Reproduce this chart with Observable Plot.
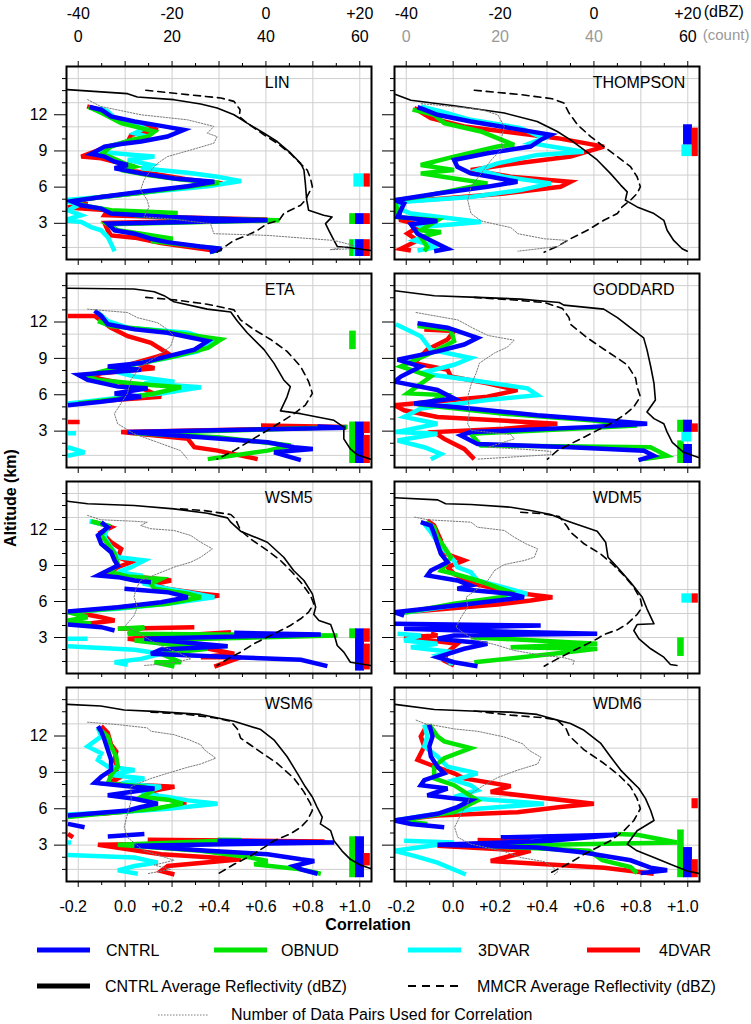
<!DOCTYPE html>
<html><head><meta charset="utf-8">
<script src="https://cdn.jsdelivr.net/npm/d3@7"></script>
<script src="https://cdn.jsdelivr.net/npm/@observablehq/plot@0.6"></script>
<style>
body{margin:0;background:#fff;}
#fig{position:relative;width:751px;height:1024px;font-family:"Liberation Sans",Arial,sans-serif;overflow:hidden;}
#fig svg{position:absolute;overflow:visible;}
</style></head><body><div id="fig"></div>
<script>
// ---------- scales / ticks ----------
const MODELS = ["CNTRL","OBNUD","3DVAR","4DVAR"];
const X_TICKS = [-0.2,0,0.2,0.4,0.6,0.8,1.0];
const X_MINOR = [-0.1,0.1,0.3,0.5,0.7,0.9];
const Y_TICKS = [3,6,9,12];
const Y_MINOR = [1,2,4,5,7,8,10,11,13,14,15];
const Y_GRID = [1,3,5,7,9,11,13,15];
const TOP_POS = [-0.2,0.2,0.6,1.0];
const DBZ_LABELS = ["-40","-20","0","+20"];
const COUNT_LABELS = ["0","20","40","60"];
const dbzToCorr = v => v == null ? NaN : 0.6 + v * 0.02;
const countToCorr = v => v == null ? NaN : -0.2 + v * 0.02;

// ---------- LIN ----------
const LIN_CNTRL = [[-0.152,12.64],[-0.102,12.42],[-0.06,11.86],[0.04,11.44],[0.153,11.08],[0.25,10.75],[0.18,10.19],[0.068,9.78],[-0.017,9.58],[-0.088,9.36],[-0.145,8.75],[-0.088,8.53],[-0.045,8.11],[0.011,7.83],[-0.045,7.56],[0.068,7.14],[0.21,6.72],[0.38,6.44],[0.267,6.08],[0.068,5.61],[-0.102,5.19],[-0.23,4.83],[-0.187,4.5],[-0.102,4.22],[-0.06,3.81],[0.068,3.67],[0.18,3.53],[0.607,3.25],[-0.074,2.97],[-0.045,2.42],[0.04,2.14],[0.11,1.72],[0.18,1.44],[0.32,1.08],[0.41,0.89],[0.36,0.61]];
const LIN_OBNUD = [[-0.156,12.64],[-0.1,12.14],[-0.017,11.31],[0.068,10.89],[0.125,10.61],[0.096,10.19],[0.026,9.92],[-0.06,9.36],[-0.1,8.75],[-0.06,8.47],[-0.003,7.97],[0.04,7.69],[-0.017,7.42],[0.096,7.0],[0.238,6.64],[0.4,6.36],[0.267,6.03],[0.068,5.53],[-0.116,5.14],[-0.23,4.83],[-0.16,4.42],[-0.06,4.08],[0.224,3.86],[0.04,3.67],[0.21,3.47],[0.657,3.25],[-0.074,2.92],[-0.031,2.42],[0.068,2.14],[0.203,1.72],[0.11,1.53],[0.267,1.17],[0.41,0.89],[0.366,0.61]];
const LIN_3DVAR = [[-0.109,12.56],[-0.074,12.28],[-0.045,11.72],[0.04,11.25],[0.082,10.89],[0.04,10.47],[0.096,10.19],[0.011,9.78],[-0.074,9.36],[-0.116,8.94],[0.04,8.67],[0.125,8.53],[0.011,8.25],[0.11,7.83],[0.068,7.56],[0.267,7.19],[0.394,6.86],[0.494,6.5],[0.352,6.08],[0.11,5.61],[-0.102,5.19],[-0.26,4.92],[-0.2,4.5],[-0.244,4.08],[-0.187,3.67],[-0.26,3.25],[-0.187,3.11],[-0.145,2.69],[-0.102,2.42],[-0.074,1.86],[-0.06,1.31],[-0.045,0.69]];
const LIN_4DVAR = [[-0.162,12.69],[-0.102,12.36],[-0.045,11.72],[0.068,11.17],[0.139,10.75],[0.026,10.33],[0.011,9.78],[-0.074,9.36],[-0.187,8.53],[-0.102,8.39],[-0.031,8.03],[0.04,7.69],[-0.017,7.47],[0.125,7.08],[0.267,6.64],[0.416,6.31],[0.267,6.03],[0.068,5.53],[-0.102,5.19],[-0.244,4.83],[-0.16,4.58],[-0.244,4.31],[-0.074,4.08],[-0.088,3.67],[0.153,3.53],[0.607,3.31],[-0.088,3.03],[-0.074,2.42],[-0.06,2.0],[0.04,1.81],[0.153,1.36],[0.295,0.97],[0.38,0.75]];
const LIN_CNTRL_DBZ = [[-42.3,14.08],[-29.5,13.75],[-27.4,13.47],[-19.6,13.25],[-13.9,12.89],[-10.4,12.56],[-6.8,12.0],[-4.0,11.31],[-0.4,10.47],[2.4,9.78],[5.3,8.81],[7.4,7.97],[8.1,7.42],[8.4,6.31],[8.7,4.92],[9.1,4.08],[12.3,3.67],[14.1,3.53],[12.7,2.97],[13.4,2.42],[14.5,1.58],[15.2,1.08],[18.0,0.97],[22.4,0.75]];
const LIN_MMCR_DBZ = [[-25.6,14.03],[-16.7,13.67],[-9.6,13.39],[-6.8,13.11],[-5.5,12.42],[-5.7,11.86],[-4.0,11.31],[-0.4,10.33],[2.4,9.64],[5.3,8.75],[7.4,7.92],[8.8,7.42],[9.5,6.72],[9.9,6.03],[9.1,5.47],[8.4,4.92],[7.4,4.5],[5.2,4.08],[3.8,3.81],[2.8,3.25],[0.3,2.97],[-1.8,2.42],[-4.0,2.0],[-6.8,1.58],[-8.9,1.03],[-10.4,0.61]];
const LIN_COUNT = [[2.0,13.25],[4.8,12.69],[13.3,12.0],[23.3,11.58],[26.1,11.31],[28.9,11.03],[27.5,10.47],[29.6,10.19],[28.9,9.64],[24.0,9.08],[19.0,8.53],[16.9,7.97],[15.5,7.42],[14.0,6.58],[13.3,5.75],[14.7,4.92],[15.1,4.36],[14.0,3.53],[19.0,3.39],[28.2,2.97],[28.9,2.14],[40.3,2.0],[54.5,1.58],[58.7,1.17],[53.7,0.81],[58.0,0.89]];
const LIN_SIG = [["OBNUD",2.9,3.8],["OBNUD",0.25,1.64],["3DVAR",6.0,7.1],["3DVAR",0.25,1.64],["CNTRL",2.9,3.8],["CNTRL",0.25,1.64],["4DVAR",6.0,7.1],["4DVAR",2.9,3.8],["4DVAR",0.25,1.64]];

// ---------- THOMPSON ----------
const THOMPSON_CNTRL = [[-0.152,12.64],[-0.123,12.42],[-0.067,12.0],[0.075,11.44],[0.245,10.89],[0.416,10.33],[0.373,9.92],[0.33,9.36],[0.146,8.81],[0.004,8.25],[0.018,7.69],[0.075,7.14],[0.16,6.86],[0.274,6.44],[0.146,6.03],[-0.067,5.47],[-0.25,4.92],[-0.209,4.64],[-0.237,3.53],[-0.067,3.19],[-0.18,2.92],[-0.152,2.14],[-0.095,1.58],[-0.024,0.89],[-0.081,0.69]];
const THOMPSON_OBNUD = [[-0.173,12.42],[-0.081,12.0],[-0.038,11.31],[0.118,10.61],[0.26,9.5],[0.189,9.36],[0.004,8.53],[-0.138,7.83],[0.004,7.42],[-0.138,7.14],[0.004,6.72],[0.146,6.31],[0.004,5.75],[-0.138,5.19],[-0.25,4.92],[-0.237,4.08],[-0.244,3.53],[-0.067,3.25],[-0.138,2.42],[-0.052,2.28],[-0.138,1.86],[-0.11,1.03],[-0.123,0.69]];
const THOMPSON_3DVAR = [[-0.138,12.69],[-0.052,12.28],[0.075,11.58],[0.288,10.89],[0.387,10.06],[0.33,9.64],[0.557,8.94],[0.359,8.67],[0.189,7.97],[0.104,7.42],[0.217,6.86],[0.416,6.31],[0.288,5.75],[0.075,5.19],[-0.209,4.78],[-0.25,4.36],[-0.18,3.81],[0.118,3.11],[-0.138,2.69],[-0.095,2.14],[-0.166,1.58],[-0.067,1.03],[-0.152,0.75]];
const THOMPSON_4DVAR = [[-0.166,12.56],[-0.095,11.72],[0.047,11.03],[0.217,10.61],[0.444,10.06],[0.643,9.36],[0.5,8.53],[0.217,7.83],[0.075,7.42],[0.245,6.86],[0.5,6.44],[0.458,6.03],[0.217,5.47],[-0.038,5.06],[-0.237,4.78],[-0.223,3.25],[-0.138,2.83],[-0.195,2.14],[-0.152,1.58],[-0.223,0.89],[-0.18,0.75]];
const THOMPSON_CNTRL_DBZ = [[-42.4,13.7],[-39.0,13.2],[-29.8,12.75],[-19.1,12.14],[-12.1,11.44],[-7.8,10.61],[-5.0,9.92],[-2.1,9.08],[0.7,8.25],[3.5,7.14],[5.7,6.17],[7.1,5.61],[6.7,4.92],[9.2,4.36],[12.8,3.81],[14.9,3.25],[15.6,2.42],[17.0,1.58],[18.8,0.89],[19.9,0.69]];
const THOMPSON_MMCR_DBZ = [[-25.5,14.03],[-15.6,13.67],[-8.9,13.33],[-6.4,12.97],[-5.3,12.14],[-3.5,11.17],[-0.7,10.19],[2.1,9.36],[5.0,8.53],[7.8,7.69],[9.2,6.86],[9.9,6.03],[9.2,5.47],[7.8,4.92],[6.0,4.36],[5.0,3.81],[2.1,3.25],[-1.4,2.42],[-5.0,1.72],[-7.8,1.08],[-10.6,0.61]];
const THOMPSON_COUNT = [[3.2,12.92],[11.0,12.64],[16.0,12.42],[19.5,12.0],[20.9,11.03],[20.2,9.92],[20.6,9.22],[18.1,8.25],[16.0,7.14],[13.8,6.03],[13.1,4.92],[13.8,3.81],[16.0,3.19],[22.3,2.64],[23.8,2.14],[29.4,1.72],[34.4,1.58],[32.3,1.08],[23.8,0.69]];
const THOMPSON_SIG = [["3DVAR",8.53,9.5],["CNTRL",9.5,11.17],["4DVAR",8.53,10.89]];

// ---------- ETA ----------
const ETA_CNTRL = [[-0.13,12.92],[-0.102,12.5],[-0.074,11.81],[0.04,11.39],[0.18,11.11],[0.352,10.42],[0.295,9.72],[0.18,9.17],[0.068,8.61],[-0.074,8.33],[0.068,8.06],[-0.2,7.64],[-0.16,7.22],[-0.031,6.67],[0.096,6.53],[-0.045,6.11],[0.068,5.83],[-0.102,5.42],[-0.244,5.14],[null,null],[0.82,3.39],[0.94,3.28],[0.011,2.92],[0.323,2.5],[0.607,2.08],[0.72,1.67],[0.8,1.53],[0.635,1.25],[0.749,0.61]];
const ETA_OBNUD = [[-0.116,12.08],[-0.06,11.67],[0.153,11.25],[0.409,10.56],[0.352,9.86],[0.21,9.17],[0.068,8.61],[-0.045,8.19],[-0.173,7.56],[-0.116,7.22],[0.11,6.81],[0.238,6.61],[0.125,6.11],[-0.017,5.69],[-0.2,5.28],[null,null],[0.947,3.33],[0.04,2.83],[0.394,2.5],[0.706,1.81],[0.607,1.39],[0.352,0.69]];
const ETA_3DVAR = [[-0.116,12.78],[-0.074,12.08],[0.011,11.53],[0.267,11.11],[0.38,10.42],[0.309,9.58],[0.18,9.03],[0.026,8.47],[-0.074,8.06],[0.04,7.5],[0.21,7.08],[0.082,6.94],[0.323,6.61],[0.153,6.11],[0.011,5.83],[-0.173,5.42],[-0.244,5.28],[null,null],[-0.244,2.83],[-0.209,2.83],[null,null],[-0.244,1.67],[-0.173,1.25],[-0.244,0.97]];
const ETA_4DVAR = [[-0.244,12.5],[-0.13,12.5],[-0.06,11.53],[0.011,10.83],[0.11,10.28],[0.18,9.44],[0.139,9.17],[0.04,8.61],[0.125,8.19],[-0.102,7.78],[-0.145,7.44],[-0.045,7.08],[0.04,6.81],[0.153,5.83],[-0.017,5.61],[-0.2,5.33],[null,null],[-0.244,3.75],[-0.194,3.75],[null,null],[0.579,3.47],[0.947,3.33],[-0.017,2.92],[0.267,2.36],[0.295,1.67],[0.394,1.39],[0.565,0.69]];
const ETA_CNTRL_DBZ = [[-42.3,14.78],[-28.1,14.72],[-23.8,14.5],[-21.7,14.17],[-19.6,13.67],[-12.5,13.06],[-7.5,12.83],[-6.1,12.08],[-4.0,11.11],[-0.4,9.72],[1.7,8.61],[3.8,7.22],[5.2,6.67],[4.5,5.83],[3.1,4.67],[7.4,4.44],[14.5,3.89],[16.6,3.33],[16.6,2.36],[18.0,1.53],[19.4,1.06],[22.3,0.69]];
const ETA_MMCR_DBZ = [[-25.6,14.03],[-19.6,13.83],[-12.5,13.47],[-6.8,13.0],[-5.4,12.17],[-2.6,11.39],[1.0,10.56],[4.5,9.58],[7.4,8.33],[9.1,7.08],[9.9,6.11],[8.4,5.14],[6.0,4.44],[3.8,3.89],[0.3,3.06],[-3.3,2.22],[-6.8,1.39],[-10.4,0.69]];
const ETA_COUNT = [[2.0,13.06],[10.5,12.78],[12.6,12.36],[16.9,11.94],[19.0,11.39],[20.4,10.83],[19.7,10.0],[16.9,9.17],[13.3,8.33],[11.2,7.22],[10.5,6.11],[9.1,5.28],[7.7,4.44],[8.4,3.61],[11.9,2.78],[16.9,2.08],[21.8,1.39],[23.3,0.69]];
const ETA_SIG = [["OBNUD",9.72,11.25],["OBNUD",0.33,3.75],["CNTRL",0.33,3.75],["4DVAR",2.8,3.75],["4DVAR",0.33,2.65]];

// ---------- GODDARD ----------
const GODDARD_CNTRL = [[-0.152,11.89],[-0.024,11.53],[0.104,10.69],[0.047,10.14],[-0.067,9.58],[-0.237,8.89],[-0.138,8.33],[-0.223,7.5],[-0.25,7.08],[-0.067,6.39],[0.004,5.69],[-0.166,5.28],[0.075,4.86],[0.359,4.31],[0.643,3.89],[0.827,3.61],[0.572,3.33],[0.075,2.92],[0.033,2.64],[0.104,1.94],[0.5,1.67],[0.813,1.39],[0.855,0.97],[0.79,0.61]];
const GODDARD_OBNUD = [[-0.152,11.67],[-0.01,11.39],[0.004,10.42],[-0.095,9.44],[-0.223,8.33],[-0.095,7.5],[-0.195,6.11],[-0.038,5.97],[-0.123,5.14],[0.217,4.44],[0.586,3.89],[0.784,3.47],[0.075,2.78],[0.118,1.81],[0.841,1.67],[0.912,0.97],[0.813,0.69]];
const GODDARD_3DVAR = [[-0.244,11.81],[-0.138,10.83],[-0.095,9.72],[0.075,9.03],[0.004,8.47],[-0.138,7.78],[0.075,7.22],[0.317,6.53],[0.359,5.97],[0.146,5.56],[-0.138,4.86],[-0.209,4.17],[-0.067,3.61],[-0.244,2.92],[-0.067,2.78],[-0.237,2.22],[-0.123,1.67],[-0.052,1.11],[-0.095,0.69]];
const GODDARD_4DVAR = [[-0.123,11.39],[0.004,11.25],[-0.024,10.56],[-0.11,9.72],[-0.166,8.61],[-0.024,8.06],[-0.01,7.5],[0.146,6.94],[0.274,6.39],[0.146,5.83],[-0.25,5.14],[-0.209,4.72],[-0.067,4.17],[0.444,3.61],[0.217,3.19],[-0.081,2.92],[-0.038,2.36],[0.047,1.53],[0.09,0.69]];
const GODDARD_CNTRL_DBZ = [[-42.4,14.58],[-34.0,14.17],[-24.8,14.03],[-15.6,13.89],[-7.4,13.61],[-6.4,13.39],[2.1,13.06],[5.0,12.36],[10.6,10.69],[11.3,9.72],[12.1,8.33],[12.8,6.94],[13.1,5.56],[11.3,4.58],[12.8,4.03],[14.9,3.61],[15.6,2.92],[16.7,2.08],[19.1,1.25],[22.3,0.83]];
const GODDARD_MMCR_DBZ = [[-25.5,14.03],[-17.7,13.83],[-10.6,13.61],[-6.7,13.11],[-5.3,12.36],[-5.0,11.81],[-1.4,10.69],[2.8,9.58],[7.1,8.47],[8.9,7.36],[9.2,6.67],[9.9,5.83],[8.5,5.0],[6.4,4.31],[3.5,3.61],[0.7,3.06],[-2.1,2.5],[-5.0,1.94],[-7.8,1.39],[-9.9,0.69]];
const GODDARD_COUNT = [[2.1,12.78],[11.0,12.17],[14.5,11.44],[17.4,10.89],[23.0,10.5],[21.6,9.94],[18.8,9.44],[15.6,8.61],[14.9,7.78],[13.8,6.81],[13.1,5.83],[13.5,4.72],[13.1,3.61],[13.8,3.06],[22.3,2.72],[23.0,2.36],[17.4,1.67],[25.2,1.5],[30.8,1.33],[30.8,1.06],[15.2,0.69]];
const GODDARD_SIG = [["OBNUD",2.9,3.9],["OBNUD",0.33,2.2],["3DVAR",2.1,2.9],["CNTRL",2.9,3.9],["CNTRL",0.33,1.9],["4DVAR",2.9,3.6]];

// ---------- WSM5 ----------
const WSM5_CNTRL = [[-0.102,12.61],[-0.074,12.19],[-0.116,11.5],[-0.102,10.81],[-0.06,10.11],[-0.045,9.42],[-0.031,9.0],[-0.074,8.58],[-0.116,8.17],[-0.031,8.03],[0.04,7.75],[0.11,7.61],[null,null],[-0.003,7.06],[0.18,6.78],[0.267,6.36],[0.153,5.94],[-0.031,5.53],[-0.244,5.17],[null,null],[-0.244,4.08],[-0.102,3.86],[-0.045,3.58],[null,null],[0.465,3.39],[0.834,3.25],[0.082,2.89],[0.437,2.28],[0.153,2.0],[0.11,1.64],[0.465,1.36],[0.749,1.14],[0.862,0.61]];
const WSM5_OBNUD = [[-0.145,12.69],[-0.074,12.33],[-0.102,11.5],[-0.074,10.81],[-0.045,9.97],[-0.031,9.14],[-0.06,8.44],[0.011,8.08],[0.153,7.89],[0.11,7.47],[0.125,7.06],[0.267,6.64],[0.323,6.36],[0.18,5.81],[0.011,5.53],[-0.244,5.11],[-0.16,4.69],[-0.244,4.42],[-0.145,4.14],[null,null],[-0.031,3.72],[0.082,3.86],[0.011,3.31],[0.905,3.17],[0.04,2.75],[0.352,2.06],[0.153,1.64],[0.238,0.94],[0.125,0.94],[0.21,0.58]];
const WSM5_3DVAR = [[-0.152,12.69],[-0.074,12.33],[-0.088,11.36],[-0.06,10.53],[-0.031,9.69],[0.082,9.42],[0.026,8.86],[-0.031,8.44],[0.068,8.17],[0.082,7.47],[0.18,7.06],[0.267,6.78],[0.38,6.36],[0.18,5.81],[-0.031,5.39],[-0.244,5.11],[null,null],[-0.244,2.89],[-0.16,2.89],[null,null],[-0.244,2.28],[0.04,1.97],[0.153,1.64],[0.068,1.22],[-0.045,0.94],[0.011,0.72]];
const WSM5_4DVAR = [[-0.13,12.61],[-0.06,12.19],[-0.102,11.78],[-0.06,10.94],[-0.017,10.39],[-0.031,9.69],[0.026,9.28],[-0.031,8.86],[-0.074,8.31],[0.196,7.75],[0.11,7.42],[0.18,7.06],[0.323,6.64],[0.401,6.5],[0.21,5.94],[-0.017,5.53],[-0.215,5.11],[-0.102,4.69],[-0.045,4.42],[-0.16,4.14],[null,null],[0.295,3.86],[-0.031,3.72],[null,null],[0.451,3.44],[0.011,2.89],[0.323,2.19],[0.465,1.64],[0.323,1.36],[0.494,1.36],[0.38,0.58]];
const WSM5_CNTRL_DBZ = [[-42.3,14.36],[-38.0,14.14],[-28.1,14.0],[-19.6,13.72],[-12.5,13.36],[-8.2,12.97],[-7.5,12.61],[-5.4,11.86],[0.3,10.94],[3.8,9.69],[5.9,8.58],[8.1,7.75],[9.9,6.64],[10.6,5.53],[10.2,4.92],[11.3,4.42],[13.8,4.08],[14.5,3.31],[15.2,2.33],[16.6,1.78],[18.0,0.94],[22.3,0.67]];
const WSM5_MMCR_DBZ = [[-18.2,13.72],[-13.2,13.58],[-7.5,13.25],[-6.5,12.89],[-5.4,11.92],[-3.3,11.22],[0.3,10.25],[3.1,9.42],[5.6,8.44],[7.7,7.47],[9.5,6.5],[10.2,5.81],[9.1,5.11],[7.4,4.56],[5.2,4.0],[3.1,3.58],[0.3,3.03],[-2.6,2.47],[-5.4,1.78],[-7.5,1.36],[-10.4,0.67]];
const WSM5_COUNT = [[2.0,13.17],[4.8,12.81],[11.9,12.69],[14.7,12.61],[13.3,12.33],[15.5,12.06],[20.4,11.92],[24.0,11.5],[26.1,10.94],[28.6,10.39],[26.1,9.69],[24.0,9.28],[20.4,8.86],[16.9,8.31],[13.3,7.75],[12.3,7.06],[11.9,6.36],[12.6,5.53],[11.9,4.83],[10.1,4.0],[11.9,3.58],[15.5,2.75],[18.3,2.19],[21.1,1.78],[24.0,1.22],[19.0,0.81],[14.0,0.67]];
const WSM5_SIG = [["OBNUD",2.9,3.72],["CNTRL",0.2,3.72],["4DVAR",2.6,3.72],["4DVAR",0.3,2.45]];

// ---------- WDM5 ----------
const WDM5_CNTRL = [[-0.138,12.61],[-0.095,12.33],[-0.081,11.64],[-0.067,10.81],[-0.052,9.97],[-0.024,9.28],[-0.095,8.58],[-0.11,8.17],[0.018,7.75],[0.075,7.33],[0.018,7.06],[0.245,6.64],[0.302,6.36],[0.075,5.81],[-0.251,5.11],[-0.209,4.83],[null,null],[-0.251,4.14],[0.373,4.0],[-0.209,3.72],[0.033,3.58],[0.614,3.31],[0.004,3.17],[-0.067,2.89],[0.146,2.47],[0.047,2.06],[-0.067,1.36],[0.004,0.94],[0.104,0.61]];
const WDM5_OBNUD = [[-0.116,12.61],[-0.081,12.19],[-0.067,11.36],[-0.038,10.53],[-0.01,9.69],[-0.052,8.58],[0.004,8.31],[0.104,7.75],[0.245,6.78],[0.203,6.36],[0.004,5.81],[-0.237,4.97],[null,null],[-0.11,3.72],[0.018,3.72],[null,null],[0.075,3.03],[0.614,2.47],[0.245,2.19],[0.614,2.06],[0.4,1.58],[0.09,0.94]];
const WDM5_3DVAR = [[-0.123,12.47],[-0.095,11.78],[-0.067,10.94],[0.004,9.42],[0.018,8.86],[0.075,8.44],[0.104,7.75],[0.316,6.64],[0.217,6.36],[0.004,5.67],[-0.237,4.97],[null,null],[-0.237,3.31],[-0.138,3.17],[-0.209,2.75],[-0.067,2.47],[-0.18,2.19],[0.004,1.78],[-0.067,1.5],[-0.01,0.94],[-0.01,0.67]];
const WDM5_4DVAR = [[-0.11,12.75],[-0.081,12.33],[-0.052,11.08],[-0.052,10.11],[0.047,9.42],[-0.024,8.86],[0.004,8.31],[0.09,7.47],[0.245,6.78],[0.423,6.36],[0.33,6.08],[0.189,5.75],[-0.209,5.11],[null,null],[-0.095,3.31],[-0.067,3.17],[-0.209,3.03],[-0.095,2.75],[0.018,2.47],[-0.024,1.78],[-0.038,1.08],[0.004,0.67]];
const WDM5_CNTRL_DBZ = [[-42.4,14.64],[-33.3,14.47],[-31.6,14.14],[-26.2,14.08],[-17.7,13.86],[-13.5,13.58],[-9.2,13.25],[-6.4,12.81],[-4.3,12.53],[0.7,11.86],[2.5,10.94],[3.0,9.69],[5.0,8.86],[7.8,7.61],[10.3,6.36],[11.3,5.39],[12.8,4.14],[9.2,4.08],[8.5,3.58],[9.6,2.89],[12.1,2.06],[14.9,1.36],[16.3,0.75],[17.7,0.67]];
const WDM5_MMCR_DBZ = [[-15.6,13.44],[-10.6,13.31],[-7.4,13.08],[-5.7,12.25],[-5.0,11.78],[-2.1,10.81],[1.4,9.97],[3.9,9.14],[6.4,8.17],[8.5,7.19],[9.9,6.22],[10.3,5.53],[9.2,4.92],[7.1,4.14],[5.0,3.64],[2.1,3.25],[0.7,2.89],[-2.1,2.33],[-5.0,1.78],[-7.8,1.22],[-10.6,0.61]];
const WDM5_COUNT = [[1.8,13.03],[4.6,12.81],[13.8,12.61],[15.2,12.19],[20.9,11.92],[23.0,11.36],[25.5,10.81],[28.0,10.39],[27.3,9.69],[25.2,9.42],[20.9,9.08],[18.8,8.58],[17.4,7.75],[15.2,7.06],[12.8,6.36],[13.1,5.53],[11.7,4.69],[10.6,3.86],[12.4,3.31],[15.2,2.75],[18.8,2.42],[23.0,1.92],[28.0,1.58],[33.7,1.31],[35.8,1.08],[35.5,0.67]];
const WDM5_SIG = [["OBNUD",1.42,2.97],["3DVAR",5.86,6.64],["4DVAR",5.86,6.64]];

// ---------- WSM6 ----------
const WSM6_CNTRL = [[-0.116,12.81],[-0.102,12.39],[-0.088,11.69],[-0.074,10.86],[-0.06,10.03],[-0.06,9.19],[-0.102,8.64],[-0.13,8.14],[0.011,7.86],[0.125,7.67],[-0.074,7.11],[0.04,6.83],[0.139,6.42],[0.068,6.14],[0.011,5.86],[-0.244,5.44],[null,null],[-0.244,4.75],[-0.173,4.47],[null,null],[-0.074,3.72],[0.082,3.92],[null,null],[0.394,3.36],[0.891,3.22],[0.04,2.94],[0.352,2.53],[0.607,2.25],[0.749,1.83],[0.806,1.69],[0.72,1.28],[0.749,1.0],[0.82,0.64]];
const WSM6_OBNUD = [[-0.116,12.67],[-0.074,11.97],[-0.06,11.14],[-0.038,10.31],[-0.031,9.47],[-0.06,8.78],[-0.074,8.08],[0.082,7.81],[0.11,7.39],[0.068,6.97],[0.182,6.75],[0.245,6.42],[0.125,6.0],[-0.102,5.58],[-0.244,5.31],[null,null],[0.394,3.45],[0.494,3.42],[-0.031,3.03],[0.323,2.53],[0.536,1.97],[0.607,1.69],[0.55,1.42],[0.749,1.0],[0.834,0.64]];
const WSM6_3DVAR = [[-0.116,12.67],[-0.102,11.97],[-0.16,11.14],[-0.102,10.58],[-0.116,10.03],[-0.074,9.47],[0.04,9.19],[-0.06,8.78],[0.082,8.5],[-0.017,8.08],[0.153,7.81],[0.068,7.25],[0.182,6.97],[0.267,6.69],[0.394,6.42],[0.182,6.0],[-0.031,5.72],[-0.244,5.53],[null,null],[-0.244,3.22],[-0.23,3.22],[null,null],[-0.244,2.19],[0.04,1.97],[0.139,1.56],[0.04,1.28],[-0.031,0.92],[0.054,0.64]];
const WSM6_4DVAR = [[-0.102,12.81],[-0.074,12.25],[-0.06,11.28],[-0.038,10.72],[-0.045,10.03],[-0.031,9.33],[-0.06,8.78],[-0.031,8.5],[-0.074,8.08],[0.21,7.81],[0.096,7.39],[0.153,6.97],[0.26,6.47],[0.139,6.0],[-0.102,5.58],[null,null],[-0.244,3.92],[-0.222,3.64],[null,null],[0.096,3.45],[0.85,3.3],[-0.116,3.03],[0.153,2.25],[0.494,1.83],[0.182,1.28],[0.153,0.86],[0.21,0.58]];
const WSM6_CNTRL_DBZ = [[-42.3,14.61],[-35.2,14.47],[-30.2,14.14],[-23.8,14.03],[-13.9,13.78],[-6.8,13.22],[-1.1,12.53],[1.7,11.69],[4.5,10.31],[6.7,8.92],[8.4,7.81],[9.9,6.97],[10.9,6.14],[12.0,5.31],[11.6,4.75],[13.8,4.19],[14.5,3.36],[16.2,2.53],[18.0,1.83],[20.1,1.36],[22.3,1.08]];
const WSM6_MMCR_DBZ = [[-24.5,13.97],[-16.7,13.78],[-11.1,13.5],[-7.5,13.22],[-6.0,12.53],[-5.4,11.83],[-1.8,10.86],[2.4,9.75],[6.0,8.5],[8.1,7.39],[9.5,6.42],[9.9,5.86],[8.8,5.03],[7.4,4.47],[5.2,3.92],[1.7,3.36],[-0.4,2.81],[-3.3,2.11],[-6.8,1.42],[-10.4,0.58]];
const WSM6_COUNT = [[2.0,13.14],[8.4,12.94],[14.7,12.67],[15.5,12.39],[20.4,12.11],[23.6,11.69],[26.1,11.28],[26.9,10.86],[29.3,10.17],[26.1,9.69],[23.3,9.42],[19.0,8.92],[15.5,8.5],[11.2,7.81],[11.3,6.69],[10.5,5.58],[9.8,4.47],[10.5,3.64],[14.0,2.53],[17.6,2.11],[20.4,1.75],[16.2,1.36],[19.7,1.0],[14.7,0.64]];
const WSM6_SIG = [["OBNUD",0.31,3.69],["CNTRL",0.31,3.69],["4DVAR",1.28,2.31]];

// ---------- WDM6 ----------
const WDM6_CNTRL = [[-0.102,12.94],[-0.088,11.97],[-0.102,11.14],[-0.095,10.31],[-0.067,9.47],[-0.038,8.92],[-0.123,8.36],[-0.138,7.94],[-0.024,7.67],[-0.11,7.11],[0.075,6.69],[0.018,6.14],[-0.067,5.58],[-0.251,5.03],[-0.18,4.75],[-0.038,4.47],[null,null],[0.203,3.64],[0.699,3.86],[0.416,3.36],[-0.067,3.03],[0.359,2.81],[0.557,2.39],[0.756,1.75],[0.841,1.14],[0.912,0.92],[0.799,0.69]];
const WDM6_OBNUD = [[-0.102,12.94],[-0.067,11.97],[-0.038,11.56],[0.075,11.0],[-0.038,10.17],[-0.081,9.47],[-0.081,8.5],[0.004,7.94],[0.104,6.69],[0.004,5.72],[-0.237,5.03],[-0.11,4.75],[null,null],[0.699,3.92],[0.784,3.86],[0.955,3.22],[0.118,2.94],[0.58,2.53],[0.636,1.75],[0.756,1.19],[0.784,0.69]];
const WDM6_3DVAR = [[-0.123,12.94],[-0.11,11.97],[-0.123,11.14],[-0.067,10.31],[-0.024,9.47],[0.104,8.92],[0.004,8.36],[0.075,7.94],[0.104,7.53],[0.004,6.97],[0.387,6.42],[0.104,6.0],[-0.067,5.58],[-0.251,5.03],[null,null],[-0.209,3.36],[0.004,3.22],[-0.251,2.53],[-0.166,2.11],[-0.067,1.56],[0.054,0.58]];
const WDM6_4DVAR = [[-0.11,12.94],[-0.138,11.97],[-0.123,11.14],[-0.152,10.03],[-0.095,9.61],[0.004,8.92],[0.047,8.5],[0.245,7.86],[0.16,7.39],[0.6,6.42],[0.458,6.14],[0.274,5.72],[-0.067,5.44],[-0.251,5.03],[null,null],[0.104,3.42],[0.33,3.36],[-0.067,2.94],[0.33,2.53],[0.16,1.69],[0.643,1.14],[0.855,0.64]];
const WDM6_CNTRL_DBZ = [[-42.4,14.61],[-34.0,14.19],[-26.2,14.06],[-17.7,13.97],[-12.1,13.78],[-7.8,13.31],[-5.0,13.03],[-2.1,12.47],[1.4,11.42],[3.5,10.31],[5.7,9.19],[7.8,8.36],[9.6,7.67],[11.0,6.83],[12.1,5.86],[12.8,5.03],[9.2,4.19],[7.1,3.08],[9.2,2.53],[12.8,1.97],[16.3,1.42],[19.9,0.86],[22.3,0.67]];
const WDM6_MMCR_DBZ = [[-25.5,14.06],[-17.7,13.72],[-10.6,13.5],[-7.8,13.31],[-6.0,12.67],[-5.3,12.03],[-2.1,10.86],[2.1,9.75],[5.3,8.78],[7.8,7.81],[9.2,6.83],[9.9,6.0],[8.5,5.03],[6.4,4.19],[3.5,3.36],[0.7,2.81],[-2.1,2.25],[-5.0,1.56],[-7.8,1.0],[-9.9,0.58]];
const WDM6_COUNT = [[2.1,13.31],[3.9,13.03],[10.3,12.58],[15.2,12.39],[20.9,11.92],[24.8,11.36],[26.2,10.81],[28.7,10.25],[28.0,9.69],[23.8,9.19],[19.5,8.58],[16.0,7.81],[13.8,7.25],[13.1,6.42],[11.7,5.58],[10.3,4.47],[11.0,3.64],[13.8,3.08],[20.9,2.47],[24.5,1.97],[29.4,1.64],[31.2,1.19],[32.3,0.81],[31.6,0.58]];
const WDM6_SIG = [["OBNUD",0.31,4.25],["CNTRL",0.31,2.8],["4DVAR",6.0,6.83],["4DVAR",0.31,1.8]];

// ---------- styling / layout ----------
const COLORS = {CNTRL:"#0000ff", OBNUD:"#00e400", "3DVAR":"#00ffff", "4DVAR":"#ff0000"};
const SLOTS = {OBNUD:[0.957,0.985], "3DVAR":[0.975,1.017], CNTRL:[0.982,1.02], "4DVAR":[1.018,1.045]};
const SIG_ORDER = ["OBNUD","3DVAR","CNTRL","4DVAR"];
const ROW_TOP = [66, 273, 481, 687];
const ROW_H = [193, 194, 192, 194];

const PANELS = [
  {name:"LIN", col:0, row:0, series:{CNTRL:LIN_CNTRL, OBNUD:LIN_OBNUD, "3DVAR":LIN_3DVAR, "4DVAR":LIN_4DVAR}, dbz:LIN_CNTRL_DBZ, mmcr:LIN_MMCR_DBZ, count:LIN_COUNT, sig:LIN_SIG},
  {name:"THOMPSON", col:1, row:0, series:{CNTRL:THOMPSON_CNTRL, OBNUD:THOMPSON_OBNUD, "3DVAR":THOMPSON_3DVAR, "4DVAR":THOMPSON_4DVAR}, dbz:THOMPSON_CNTRL_DBZ, mmcr:THOMPSON_MMCR_DBZ, count:THOMPSON_COUNT, sig:THOMPSON_SIG},
  {name:"ETA", col:0, row:1, series:{CNTRL:ETA_CNTRL, OBNUD:ETA_OBNUD, "3DVAR":ETA_3DVAR, "4DVAR":ETA_4DVAR}, dbz:ETA_CNTRL_DBZ, mmcr:ETA_MMCR_DBZ, count:ETA_COUNT, sig:ETA_SIG},
  {name:"GODDARD", col:1, row:1, series:{CNTRL:GODDARD_CNTRL, OBNUD:GODDARD_OBNUD, "3DVAR":GODDARD_3DVAR, "4DVAR":GODDARD_4DVAR}, dbz:GODDARD_CNTRL_DBZ, mmcr:GODDARD_MMCR_DBZ, count:GODDARD_COUNT, sig:GODDARD_SIG},
  {name:"WSM5", col:0, row:2, series:{CNTRL:WSM5_CNTRL, OBNUD:WSM5_OBNUD, "3DVAR":WSM5_3DVAR, "4DVAR":WSM5_4DVAR}, dbz:WSM5_CNTRL_DBZ, mmcr:WSM5_MMCR_DBZ, count:WSM5_COUNT, sig:WSM5_SIG},
  {name:"WDM5", col:1, row:2, series:{CNTRL:WDM5_CNTRL, OBNUD:WDM5_OBNUD, "3DVAR":WDM5_3DVAR, "4DVAR":WDM5_4DVAR}, dbz:WDM5_CNTRL_DBZ, mmcr:WDM5_MMCR_DBZ, count:WDM5_COUNT, sig:WDM5_SIG},
  {name:"WSM6", col:0, row:3, series:{CNTRL:WSM6_CNTRL, OBNUD:WSM6_OBNUD, "3DVAR":WSM6_3DVAR, "4DVAR":WSM6_4DVAR}, dbz:WSM6_CNTRL_DBZ, mmcr:WSM6_MMCR_DBZ, count:WSM6_COUNT, sig:WSM6_SIG},
  {name:"WDM6", col:1, row:3, series:{CNTRL:WDM6_CNTRL, OBNUD:WDM6_OBNUD, "3DVAR":WDM6_3DVAR, "4DVAR":WDM6_4DVAR}, dbz:WDM6_CNTRL_DBZ, mmcr:WDM6_MMCR_DBZ, count:WDM6_COUNT, sig:WDM6_SIG}
];

const FONT = "Liberation Sans, Arial, Helvetica, sans-serif";
const fmtX = d => Math.abs(d) < 1e-9 ? "0.0" : (d > 0 ? "+" : "-") + Math.abs(d).toFixed(1);
const blank = () => "";
const fig = document.getElementById("fig");

function makePanel(p) {
  const left = p.col === 0, top = p.row === 0, bottom = p.row === 3;
  const mL = left ? 66 : 14, mR = left ? 9 : 52;
  const mT = top ? 66 : 8, mB = bottom ? 50 : 10;
  const h = ROW_H[p.row];
  const lineOpts = color => ({x: d => d[0], y: d => d[1], stroke: color, strokeWidth: 4.5,
    strokeLinejoin: "miter", strokeMiterlimit: 4, strokeLinecap: "butt", clip: true});
  const marks = [
    Plot.ruleX(X_TICKS, {x: d => d, stroke: "#cfcfcf", strokeWidth: 1}),
    Plot.ruleY(Y_GRID, {y: d => d, stroke: "#cfcfcf", strokeWidth: 1}),
    Plot.line(p.series["4DVAR"], lineOpts(COLORS["4DVAR"])),
    Plot.line(p.series["3DVAR"], lineOpts(COLORS["3DVAR"])),
    Plot.line(p.series.OBNUD, lineOpts(COLORS.OBNUD)),
    Plot.line(p.series.CNTRL, lineOpts(COLORS.CNTRL)),
  ];
  for (const m of SIG_ORDER) {
    const rows = p.sig.filter(d => d[0] === m);
    if (rows.length) marks.push(Plot.rect(rows, {x1: d => SLOTS[d[0]][0], x2: d => SLOTS[d[0]][1], y1: d => d[1], y2: d => d[2], fill: COLORS[m]}));
  }
  marks.push(
    Plot.line(p.mmcr, {x: d => dbzToCorr(d[0]), y: d => d[1], stroke: "black", strokeWidth: 1.6, strokeDasharray: "7 5", clip: true}),
    Plot.line(p.dbz, {x: d => dbzToCorr(d[0]), y: d => d[1], stroke: "black", strokeWidth: 1.6, clip: true}),
    Plot.line(p.count, {x: d => countToCorr(d[0]), y: d => d[1], stroke: "#7a7a7a", strokeWidth: 1, strokeDasharray: "1.5 1.5", clip: true}),
    Plot.text([p.name], {x: () => 0.595, frameAnchor: "top", dy: 10, text: d => d, textAnchor: "start", fontSize: 16, fill: "black"}),
    Plot.frame({stroke: "black", strokeWidth: 2}),
    Plot.axisY(Y_TICKS, {anchor: "left", tickSize: 12, tickPadding: 7, fontSize: 16, tickFormat: left ? d => String(d) : blank, label: null}),
    Plot.axisY(Y_MINOR, {anchor: "left", tickSize: 4, tickFormat: blank, label: null}),
    Plot.axisX(X_TICKS, {anchor: "bottom", tickSize: 6, tickFormat: blank, label: null}),
    Plot.axisX(X_MINOR, {anchor: "bottom", tickSize: 4, tickFormat: blank, label: null})
  );
  if (bottom) {
    marks.push(
      Plot.axisX(X_TICKS.filter(d => d !== 0), {anchor: "bottom", tickSize: 0, tickPadding: 19, dx: -5, fontSize: 16, tickFormat: fmtX, label: null}),
      Plot.axisX([0], {anchor: "bottom", tickSize: 0, tickPadding: 19, fontSize: 16, tickFormat: fmtX, label: null})
    );
  }
  if (top) {
    marks.push(
      Plot.axisX(X_TICKS, {anchor: "top", tickSize: 6, tickFormat: blank, label: null}),
      Plot.axisX(X_MINOR, {anchor: "top", tickSize: 4, tickFormat: blank, label: null}),
      Plot.text(TOP_POS, {x: d => d, text: (d, i) => DBZ_LABELS[i], frameAnchor: "top", dy: -59, fontSize: 16, fill: "black"})
    );
    if (left) {
      marks.push(Plot.text(TOP_POS, {x: d => d, text: (d, i) => COUNT_LABELS[i], frameAnchor: "top", dy: -36, fontSize: 16, fill: "black"}));
    } else {
      marks.push(
        Plot.text(TOP_POS.slice(0, 3), {x: d => d, text: (d, i) => COUNT_LABELS[i], frameAnchor: "top", dy: -36, fontSize: 16, fill: "#999999"}),
        Plot.text(TOP_POS.slice(3), {x: d => d, text: () => COUNT_LABELS[3], frameAnchor: "top", dy: -36, fontSize: 16, fill: "black"}),
        Plot.text(["(dBZ)"], {x: () => 1.0, text: d => d, frameAnchor: "top", dy: -61, dx: 16, textAnchor: "start", fontSize: 16, fill: "black"}),
        Plot.text(["(count)"], {x: () => 1.0, text: d => d, frameAnchor: "top", dy: -37, dx: 15, textAnchor: "start", fontSize: 15, fill: "#999999"})
      );
    }
  }
  const svg = Plot.plot({
    width: mL + 305 + mR,
    height: mT + h + mB,
    marginLeft: mL, marginRight: mR, marginTop: mT, marginBottom: mB,
    x: {domain: [-0.25, 1.05]},
    y: {domain: [0, 16]},
    style: {fontFamily: FONT, fontSize: "16px", background: "transparent", color: "black", overflow: "visible"},
    marks
  });
  svg.style.left = (left ? 0 : 380) + "px";
  svg.style.top = (ROW_TOP[p.row] - mT) + "px";
  fig.appendChild(svg);
}

PANELS.forEach(makePanel);

// ---------- titles and legend ----------
const LEGEND_ROW1 = [
  {label:"CNTRL", color:COLORS.CNTRL, x:37, tx:106},
  {label:"OBNUD", color:COLORS.OBNUD, x:214, tx:281},
  {label:"3DVAR", color:COLORS["3DVAR"], x:408, tx:478},
  {label:"4DVAR", color:COLORS["4DVAR"], x:587, tx:659}
];
const ov = d3.select(fig).append("svg")
  .attr("width", 751).attr("height", 1024)
  .style("left", "0px").style("top", "0px")
  .style("font-family", FONT).style("font-size", "16px");
ov.append("text").attr("transform", "translate(16,498) rotate(-90)")
  .attr("text-anchor", "middle").attr("font-weight", "bold").text("Altitude (km)");
ov.append("text").attr("x", 368).attr("y", 930).attr("text-anchor", "middle")
  .attr("font-weight", "bold").text("Correlation");
const row1Y = 950;
LEGEND_ROW1.forEach(d => {
  ov.append("line").attr("x1", d.x).attr("x2", d.x + 53).attr("y1", row1Y).attr("y2", row1Y)
    .attr("stroke", d.color).attr("stroke-width", 5);
  ov.append("text").attr("x", d.tx).attr("y", row1Y + 6).text(d.label);
});
const row2Y = 986;
ov.append("line").attr("x1", 37).attr("x2", 90).attr("y1", row2Y).attr("y2", row2Y)
  .attr("stroke", "black").attr("stroke-width", 5);
ov.append("text").attr("x", 105).attr("y", row2Y + 6).text("CNTRL Average Reflectivity (dBZ)");
ov.append("line").attr("x1", 408).attr("x2", 461).attr("y1", row2Y).attr("y2", row2Y)
  .attr("stroke", "black").attr("stroke-width", 2).attr("stroke-dasharray", "8 6");
ov.append("text").attr("x", 477).attr("y", row2Y + 6).text("MMCR Average Reflectivity (dBZ)");
const row3Y = 1015;
ov.append("line").attr("x1", 158).attr("x2", 209).attr("y1", row3Y).attr("y2", row3Y)
  .attr("stroke", "#7a7a7a").attr("stroke-width", 1).attr("stroke-dasharray", "1.5 1.5");
ov.append("text").attr("x", 231).attr("y", row3Y + 5).text("Number of Data Pairs Used for Correlation");
</script></body></html>
